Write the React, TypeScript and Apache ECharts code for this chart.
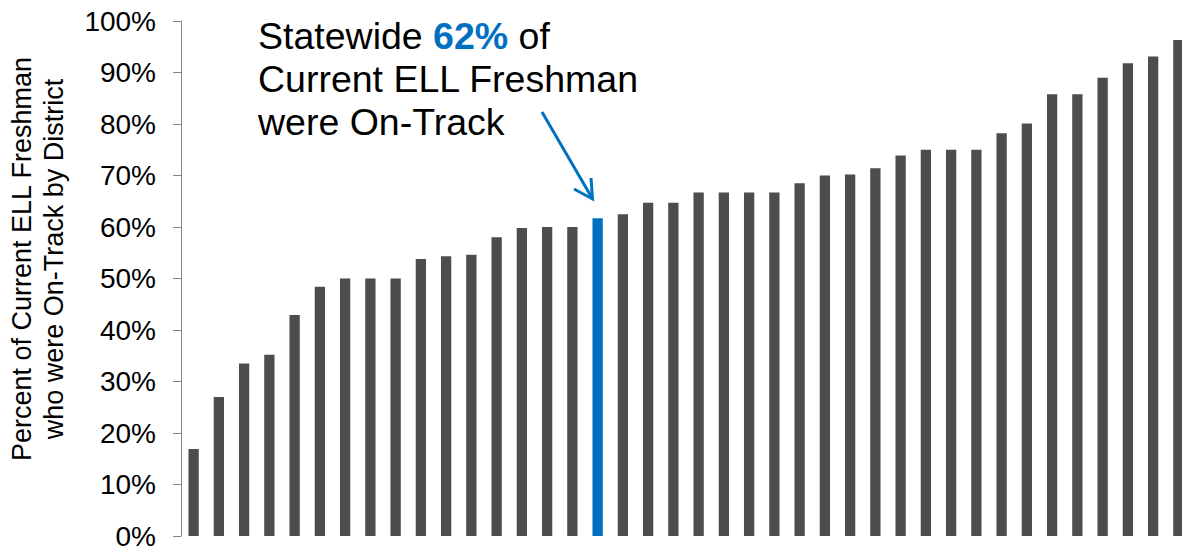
import React, { useEffect, useRef } from "react";
import * as echarts from "echarts";

const districts: string[] = Array.from({ length: 40 }, (_, i) => `District ${i + 1}`);
const onTrackPct: number[] = [
  16.9, 27.0, 33.5, 35.2, 42.9, 48.4, 50, 50, 50, 53.8, 54.3, 54.6, 58.0, 59.8, 60.0, 60.0,
  61.7, 62.5, 64.7, 64.7, 66.7, 66.7, 66.7, 66.7, 68.5, 70.0, 70.2, 71.4, 73.9, 75.0, 75.0,
  75.0, 78.2, 80.1, 85.8, 85.8, 89.0, 91.8, 93.1, 96.3,
];
const statewideIndex = 16;
const yTicks: number[] = [0, 10, 20, 30, 40, 50, 60, 70, 80, 90, 100];
const yTitleLines: string[] = ["Percent of Current ELL Freshman", "who were On-Track by District"];
const annotationLines: string[] = ["Statewide {b|62%} of", "Current ELL Freshman", "were On-Track"];

const FONT = "'Liberation Sans', Arial, sans-serif";
const GRAY = "#4D4D4D";
const BLUE = "#0070C0";

export default function App() {
  const ref = useRef<HTMLDivElement>(null);
  useEffect(() => {
    if (!ref.current) return;
    const chart = echarts.init(ref.current, undefined, { renderer: "svg" });
    chart.setOption({
      animation: false,
      grid: { left: 181, right: 0, top: 21, bottom: 12, containLabel: false },
      xAxis: {
        type: "category",
        data: districts,
        axisLine: { show: false },
        axisTick: { show: false },
        axisLabel: { show: false },
        splitLine: { show: false },
      },
      yAxis: {
        type: "value",
        min: yTicks[0],
        max: yTicks[yTicks.length - 1],
        interval: 10,
        axisLine: { show: true, lineStyle: { color: "#868686", width: 1 } },
        axisTick: { show: true, length: 8, lineStyle: { color: "#868686", width: 1 } },
        splitLine: { show: false },
        axisLabel: {
          formatter: "{value}%",
          fontSize: 28,
          color: "#000",
          fontFamily: FONT,
          margin: 25,
        },
      },
      series: [
        {
          type: "bar",
          data: onTrackPct.map((v, i) =>
            i === statewideIndex ? { value: v, itemStyle: { color: BLUE } } : v
          ),
          barWidth: 10.3,
          itemStyle: { color: GRAY },
        },
      ],
      graphic: [
        {
          type: "text",
          x: 38,
          y: 259,
          rotation: Math.PI / 2,
          style: {
            text: yTitleLines.join("\n"),
            fontSize: 27,
            lineHeight: 32,
            fontFamily: FONT,
            fill: "#000",
            align: "center",
            verticalAlign: "middle",
          },
        },
        {
          type: "text",
          x: 258,
          y: 14,
          style: {
            text: annotationLines.join("\n"),
            fontSize: 37.5,
            lineHeight: 43,
            fontFamily: FONT,
            fill: "#000",
            align: "left",
            verticalAlign: "top",
            rich: {
              b: {
                fontSize: 37.5,
                lineHeight: 43,
                fontFamily: FONT,
                fontWeight: "bold",
                fill: BLUE,
              },
            },
          },
        },
        {
          type: "line",
          shape: { x1: 542, y1: 112, x2: 592, y2: 198 },
          style: { stroke: BLUE, lineWidth: 3 },
        },
        {
          type: "polyline",
          shape: { points: [[574, 189], [592.5, 199], [591, 178]] },
          style: { stroke: BLUE, lineWidth: 3, fill: "none" },
        },
      ],
    });
    return () => chart.dispose();
  }, []);
  return (
    <div
      ref={ref}
      style={{ position: "fixed", left: 0, top: 0, width: 1191, height: 550, background: "#fff" }}
    />
  );
}
